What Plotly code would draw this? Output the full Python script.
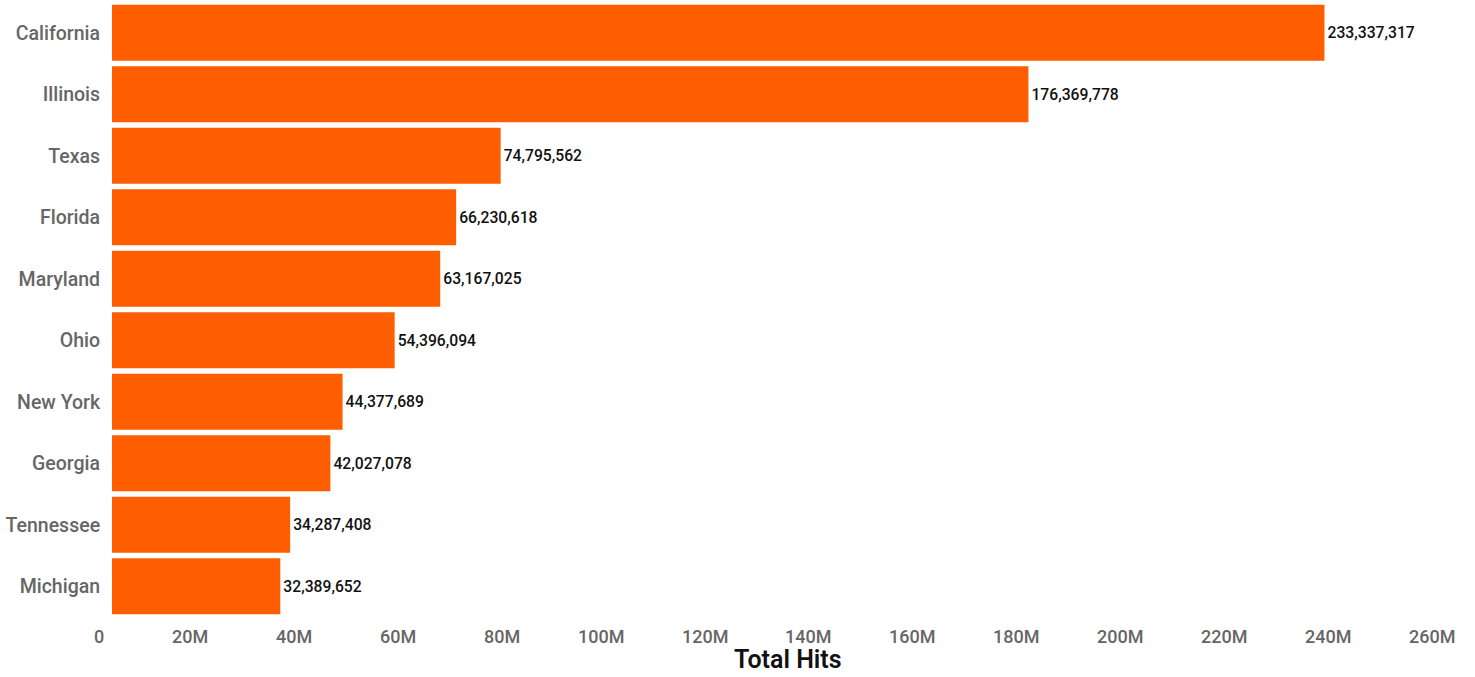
import plotly.graph_objects as go

states = ["California", "Illinois", "Texas", "Florida", "Maryland", "Ohio",
          "New York", "Georgia", "Tennessee", "Michigan"]
hits = [233337317, 176369778, 74795562, 66230618, 63167025, 54396094,
        44377689, 42027078, 34287408, 32389652]

tick_vals = [0, 20e6, 40e6, 60e6, 80e6, 100e6, 120e6, 140e6, 160e6, 180e6,
             200e6, 220e6, 240e6, 260e6]
tick_labels = ["0", "20M", "40M", "60M", "80M", "100M", "120M", "140M", "160M",
               "180M", "200M", "220M", "240M", "260M"]
x_title = "Total Hits"

FONT = "Roboto"
GRAY = "#666666"

fig = go.Figure(go.Bar(
    x=hits, y=states, orientation="h",
    marker=dict(color="#FF5E00", line=dict(width=0)),
    texttemplate="%{x:,}", textposition="outside",
    textfont=dict(family=FONT, size=15.7, color="#111111", weight=500),
    cliponaxis=False,
))

annotations = []
for v, t in zip(tick_vals, tick_labels):
    annotations.append(dict(
        x=v, xref="x", y=0, yref="paper", text=t, showarrow=False,
        xanchor="right", yanchor="top", xshift=-6, yshift=-7,
        font=dict(family=FONT, size=18, color=GRAY, weight=500),
    ))
annotations.append(dict(
    x=0.5, xref="paper", y=0, yref="paper", text=x_title, showarrow=False,
    xanchor="center", yanchor="top", yshift=-27, borderpad=0,
    font=dict(family=FONT, size=25, color="#111111", weight=600),
))

fig.update_layout(
    width=1475, height=677,
    margin=dict(l=112, r=12, t=2, b=60),
    plot_bgcolor="white", paper_bgcolor="white",
    bargap=0.09,
    showlegend=False,
    annotations=annotations,
    xaxis=dict(range=[0, 260e6], showgrid=False, zeroline=False,
               showticklabels=False, showline=False, ticks=""),
    yaxis=dict(categoryorder="array", categoryarray=states, autorange="reversed",
               showgrid=False, zeroline=False, showline=False,
               ticks="outside", ticklen=7, tickcolor="rgba(0,0,0,0)",
               tickfont=dict(family=FONT, size=19.5, color=GRAY, weight=500)),
)

fig.write_html("out.html", config={"displayModeBar": False},
               post_script="document.body.style.margin='0';")
